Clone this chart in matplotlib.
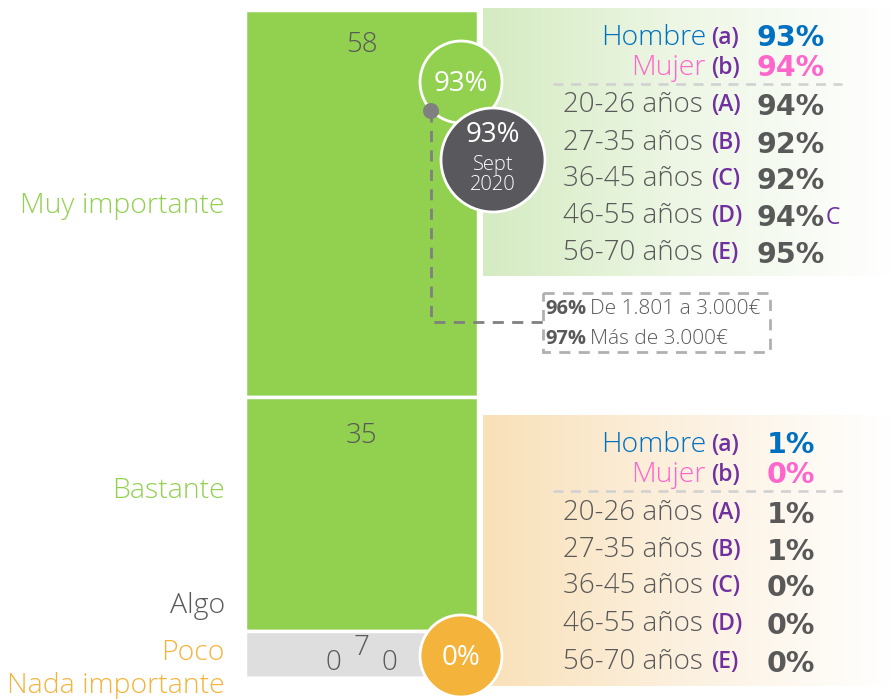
import matplotlib.pyplot as plt
import numpy as np
from matplotlib.patches import Circle, Rectangle
from matplotlib.colors import LinearSegmentedColormap

# data
categories = ['Muy importante', 'Bastante', 'Algo', 'Poco', 'Nada importante']
values = [58, 35, 7, 0, 0]
seg_colors = ['#92d050', '#92d050', '#dedede', '#dedede', '#dedede']
cat_colors = ['#92d050', '#92d050', '#595959', '#f4b43c', '#f4b43c']

top_total = 93
top_prev = 93
top_prev_label = 'Sept\n2020'
bottom_total = 0

groups = ['Hombre', 'Mujer']
group_letters = ['(a)', '(b)']
group_colors = ['#0070c0', '#ff66cc']
ages = ['20-26 años', '27-35 años', '36-45 años', '46-55 años', '56-70 años']
age_letters = ['(A)', '(B)', '(C)', '(D)', '(E)']

top_groups = [93, 94]
top_ages = [94, 92, 92, 94, 95]
top_sig = ['', '', '', 'C', '']
bottom_groups = [1, 0]
bottom_ages = [1, 1, 0, 0, 0]

income_vals = [96, 97]
income_labels = ['De 1.801 a 3.000€', 'Más de 3.000€']

W, H = 892, 699
fig = plt.figure(figsize=(W / 100, H / 100), dpi=100)
LW = 'light'

# bar axes
ax = fig.add_axes([245 / W, (H - 678) / H, 233 / W, 668 / H], zorder=1)
bottoms = np.concatenate([[0], np.cumsum(values)[:-1]])
ax.bar([0] * len(values), values, bottom=bottoms, width=1.0, color=seg_colors,
       edgecolor='white', linewidth=2.5)
ax.set_xlim(-0.5, 0.5)
ax.set_ylim(100, 0)
ax.axis('off')

# value labels
lab_pos = [(0.0, 5.2), (0.0, 63.7), (0.0, 95.5), (-0.12, 97.8), (0.12, 97.8)]
for v, (lx, ly) in zip(values, lab_pos):
    ax.text(lx, ly, str(v), ha='center', va='center', fontsize=20,
            color='#595959', family='Open Sans', weight=LW)

# overlay axes in pixel coords
ov = fig.add_axes([0, 0, 1, 1], zorder=2)
ov.axis('off')
ov.patch.set_alpha(0)

# category labels
cat_y = [206, 491, 606, 653, 686]
for c, cy, col in zip(categories, cat_y, cat_colors):
    ov.text(225, cy, c, ha='right', va='center', fontsize=20.5, color=col,
            family='Open Sans', weight=LW)

# gradient panels
grad = np.linspace(0, 1, 256).reshape(1, -1)
cm_g = LinearSegmentedColormap.from_list('g', ['#d5ebc2', '#eef7e6', '#ffffff'])
cm_o = LinearSegmentedColormap.from_list('o', ['#f9e0b8', '#fcf1e0', '#ffffff'])
ov.imshow(grad, cmap=cm_g, extent=[483, W, 276, 8], aspect='auto', zorder=0)
ov.imshow(grad, cmap=cm_o, extent=[483, W, 686, 415], aspect='auto', zorder=0)
ov.set_xlim(0, W)
ov.set_ylim(H, 0)


def panel(y_groups, y_line, y_ages, gvals, avals, sigs):
    for g, l, col, y, v in zip(groups, group_letters, group_colors, y_groups, gvals):
        ov.text(706, y, g, ha='right', va='center', fontsize=20.5, color=col,
                family='Open Sans', weight=LW, zorder=5)
        ov.text(711, y, l, ha='left', va='center', fontsize=16.5, color='#7030a0',
                family='Open Sans', weight='semibold', zorder=5)
        ov.text(791, y, f'{v}%', ha='center', va='center', fontsize=20.5,
                color=col, family='DejaVu Sans', weight='bold', zorder=5)
    ov.plot([553, 842], [y_line, y_line], color='#d0d0d0', lw=1.8,
            ls=(0, (4, 3)), zorder=4)
    for a, l, y, v, s in zip(ages, age_letters, y_ages, avals, sigs):
        ov.text(703, y, a, ha='right', va='center', fontsize=20, color='#595959',
                family='Open Sans', weight=LW, zorder=5)
        ov.text(711, y, l, ha='left', va='center', fontsize=16.5, color='#7030a0',
                family='Open Sans', weight='semibold', zorder=5)
        ov.text(791, y + 2, f'{v}%', ha='center', va='center', fontsize=20.5,
                color='#595959', family='DejaVu Sans', weight='bold', zorder=5)
        if s:
            ov.text(826, y + 2, s, ha='left', va='center', fontsize=16.5,
                    color='#7030a0', family='Open Sans', zorder=5)


panel([38, 68], 84, [105, 143, 179, 216, 253], top_groups, top_ages, top_sig)
panel([445, 475], 491, [513, 550, 586, 624, 662], bottom_groups, bottom_ages,
      [''] * 5)

# connector and income box
ov.plot([431, 431, 543], [111, 322, 322], color='#808080', lw=2,
        ls=(0, (4, 3)), zorder=3)
ov.add_patch(Rectangle((543, 293), 227, 59, fill=False, edgecolor='#b0b0b0',
                       lw=2, ls=(0, (4, 3)), zorder=3))
for i, (v, lab) in enumerate(zip(income_vals, income_labels)):
    yy = 309 + i * 30
    ov.text(545, yy, f'{v}%', ha='left', va='center', fontsize=14.5,
            color='#595959', family='Open Sans', weight='bold', zorder=5)
    ov.text(590, yy, lab, ha='left', va='center', fontsize=15,
            color='#595959', family='Open Sans', weight=LW, zorder=5)

# circles
ov.add_patch(Circle((461, 82), 41, facecolor='#92d050', edgecolor='white',
                    lw=2, zorder=6))
ov.text(461, 84, f'{top_total}%', ha='center', va='center', fontsize=20,
        color='white', family='Open Sans', zorder=7)
ov.add_patch(Circle((431, 111), 8, facecolor='#808080', edgecolor='none',
                    zorder=8))
ov.add_patch(Circle((493, 160), 52, facecolor='#59585d', edgecolor='white',
                    lw=2, zorder=9))
ov.text(493, 135, f'{top_prev}%', ha='center', va='center', fontsize=20,
        color='white', family='Open Sans', zorder=10)
ov.text(493, 175, top_prev_label, ha='center', va='center', fontsize=14.5,
        color='white', family='Open Sans', weight=LW, linespacing=1.05,
        zorder=10)
ov.add_patch(Circle((461, 656), 41, facecolor='#f4b43c', edgecolor='white',
                    lw=2, zorder=6))
ov.text(461, 658, f'{bottom_total}%', ha='center', va='center', fontsize=20,
        color='white', family='Open Sans', zorder=7)

fig.savefig('out.png', dpi=100)
